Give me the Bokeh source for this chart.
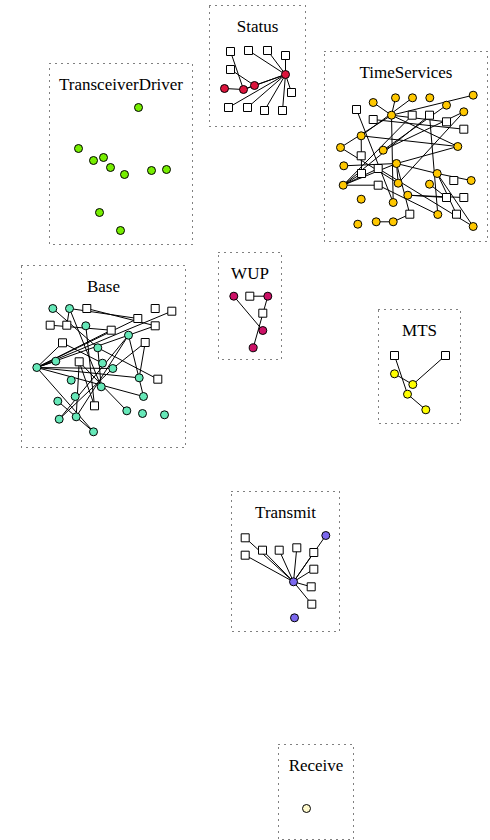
from bokeh.plotting import figure
from bokeh.models import Range1d, ColumnDataSource
from bokeh.embed import file_html
from bokeh.resources import INLINE
from bokeh.core.properties import value

# ---------------- data (node positions in page pixels) ----------------
cluster_names = ["Status", "TransceiverDriver", "TimeServices", "Base",
                 "WUP", "MTS", "Transmit", "Receive"]
box_left = [209, 49, 324, 21, 218, 378, 231, 278]
box_top = [5, 63, 51, 265, 252, 309, 491, 744]
box_right = [305, 192, 487, 185, 281, 460, 339, 353]
box_bottom = [126, 244, 241, 447, 359, 423, 631, 839]
cluster_colors = ["#dc143c", "#76ee00", "#ffc800", "#66e8b8",
                  "#cc1166", "#ffff00", "#7b68ee", "#fffacd"]

status_circles = [(224, 88), (243, 89), (254, 85), (285, 74)]
status_squares = [(230, 51), (248, 50), (267, 50), (285, 55), (230, 69),
                  (291, 92), (228, 107), (247, 107), (264, 110), (282, 110)]
status_edges = [("c0", "c1"), ("c1", "c2"), ("c2", "c3"), ("c1", "c3"),
                ("s0", "c1"), ("s4", "c2"), ("s1", "c3"), ("s2", "c3"),
                ("s3", "c3"), ("s5", "c3"), ("s6", "c3"), ("s7", "c3"),
                ("s8", "c3"), ("s9", "c3")]

td_circles = [(138, 107), (78, 148), (93, 160), (103, 157), (110, 167),
              (124, 174), (151, 170), (166, 169), (99, 212), (120, 230)]
td_squares = []
td_edges = []

ts_circles = [(372.7, 102), (395, 97.3), (412, 97.3), (429.3, 97.3),
              (472.7, 94.7), (446, 104.7), (463.3, 111.3), (391, 114.7),
              (360.7, 135.3), (340, 147), (382.7, 149.7), (457.3, 146),
              (343.3, 165.3), (396, 163), (436.7, 173), (470.7, 180),
              (342.7, 184.7), (397.7, 182.7), (429, 183.7), (407.3, 194.7),
              (360.7, 198.7), (392.7, 202), (437.3, 214), (357.3, 223.7),
              (375.7, 221.3), (392.7, 221.3), (472.7, 226)]
ts_squares = [(356, 109), (372.7, 119), (411.7, 114.7), (429, 114.7),
              (446, 121.3), (463.3, 128.7), (360.7, 155.3), (361, 173),
              (377.7, 168), (377.7, 184.7), (453.3, 180), (446, 197),
              (463.3, 197), (409.3, 213.7), (456, 213.7)]
ts_edges = [("c0", "c7"), ("c1", "c7"), ("c7", "c4"), ("c7", "c21"),
            ("c7", "c11"), ("c7", "s4"), ("c8", "s7"), ("c8", "c2"),
            ("s0", "c21"), ("s1", "s5"), ("c8", "c11"), ("c10", "c5"),
            ("c10", "c6"), ("c9", "c7"), ("c9", "c17"), ("c16", "s7"),
            ("c16", "s8"), ("c16", "s9"), ("c16", "s3"),
            ("c16", "c13"), ("c12", "c13"), ("c13", "c11"), ("c13", "c14"),
            ("c13", "c17"), ("c14", "c15"), ("c14", "c26"), ("c14", "s14"),
            ("s3", "c22"), ("s9", "c22"), ("s8", "c26"), ("c19", "s11"),
            ("c19", "s12"), ("c24", "c25"), ("c25", "s13"), ("c18", "s11"),
            ("c13", "s13"), ("c17", "c6"), ("c16", "s2")]

base_circles = [(52.3, 308), (69, 308), (85.3, 325.3), (128, 334.7),
                (97.3, 347.3), (55.3, 360.7), (36.3, 367), (102, 362.7),
                (112.3, 368), (70.7, 379.7), (138.7, 377.3), (100.7, 386.3),
                (74.7, 396), (143, 396), (57.3, 400.7), (126.3, 410.3),
                (142, 413), (164, 414.3), (58.7, 418.7), (75.7, 416.3),
                (93, 431.3)]
base_squares = [(86.3, 308), (154.7, 308), (171.3, 310.7), (49.7, 324.7),
                (66.3, 324.7), (137.3, 318), (154.7, 325.3), (110.7, 329.7),
                (62, 342.3), (144.7, 342), (78.7, 361.3), (157.3, 378.7),
                (94, 405.3)]
base_edges = [("c6", "s2"), ("c6", "s5"), ("c6", "s6"), ("c6", "s7"),
              ("c6", "s8"), ("c6", "c10"), ("c6", "c8"), ("c6", "c5"),
              ("c6", "c13"), ("c6", "c20"), ("c0", "c4"), ("c4", "c11"),
              ("c1", "s5"), ("s0", "s6"), ("c1", "s4"), ("c1", "c11"),
              ("s3", "s7"), ("s8", "c7"), ("c3", "c18"), ("c3", "c19"),
              ("c3", "c13"), ("s10", "c19"), ("s10", "s12"), ("s10", "c15"),
              ("s9", "c10"), ("s9", "c8"), ("c4", "s11"), ("c14", "c20"),
              ("c2", "s12"), ("c18", "c8")]

wup_circles = [(233.3, 295.7), (267.3, 295.7), (262.3, 330), (252.7, 347.3)]
wup_squares = [(249.3, 295.7), (262.3, 312.7)]
wup_edges = [("c0", "c2"), ("s0", "c1"), ("c1", "c3")]

mts_circles = [(394, 373.3), (412.3, 384), (407, 393.7), (425.3, 409.3)]
mts_squares = [(394, 355), (445, 355)]
mts_edges = [("s0", "c2"), ("c0", "c1"), ("c1", "s1"), ("c2", "c3")]

tx_circles = [(293, 581.3), (325.3, 535), (294, 617.3)]
tx_squares = [(244.7, 537.3), (244.7, 554.7), (262, 549.7), (278.7, 549.7),
              (296.3, 547.3), (313.3, 552), (313.3, 568.7), (310.7, 586.3),
              (311.3, 603.7)]
tx_edges = [("c0", "c1")] + [("c0", "s%d" % i) for i in range(9)]

rx_circles = [(306, 808)]
rx_squares = []
rx_edges = []

all_circles = [status_circles, td_circles, ts_circles, base_circles,
               wup_circles, mts_circles, tx_circles, rx_circles]
all_squares = [status_squares, td_squares, ts_squares, base_squares,
               wup_squares, mts_squares, tx_squares, rx_squares]
all_edges = [status_edges, td_edges, ts_edges, base_edges,
             wup_edges, mts_edges, tx_edges, rx_edges]

# ---------------- figure ----------------
W, H = 490, 840
p = figure(width=W, height=H, output_backend="svg", toolbar_location=None,
           x_range=Range1d(0, W), y_range=Range1d(H, 0), min_border=0)
p.axis.visible = False
p.grid.visible = False
p.outline_line_color = None
p.background_fill_color = "white"

p.quad(left=box_left, right=box_right, top=box_top, bottom=box_bottom,
       fill_color=None, line_color="black", line_width=1, line_dash="1 5")

x0, y0, x1, y1 = [], [], [], []
cx, cy, cc = [], [], []
sx, sy = [], []
for circles, squares, edges, col in zip(all_circles, all_squares, all_edges,
                                        cluster_colors):
    nodes = {}
    for i, (x, y) in enumerate(circles):
        nodes["c%d" % i] = (x, y)
        cx.append(x); cy.append(y); cc.append(col)
    for i, (x, y) in enumerate(squares):
        nodes["s%d" % i] = (x, y)
        sx.append(x); sy.append(y)
    for a, b in edges:
        x0.append(nodes[a][0]); y0.append(nodes[a][1])
        x1.append(nodes[b][0]); y1.append(nodes[b][1])

p.segment(x0=x0, y0=y0, x1=x1, y1=y1, line_color="black", line_width=1)
p.scatter(sx, sy, marker="square", size=8, fill_color="white",
          line_color="black", line_width=1)
p.scatter(x="x", y="y", source=ColumnDataSource(dict(x=cx, y=cy, c=cc)),
          marker="circle", size=8, fill_color="c", line_color="black",
          line_width=1)

tx = [(l + r) / 2 for l, r in zip(box_left, box_right)]
ty = [t + 21 for t in box_top]
p.text(x=tx, y=ty, text=cluster_names, text_align="center",
       text_baseline="alphabetic", text_font=value("Liberation Serif"),
       text_font_size="17px", text_color="black")

open("out.html", "w").write(file_html(p, INLINE))
